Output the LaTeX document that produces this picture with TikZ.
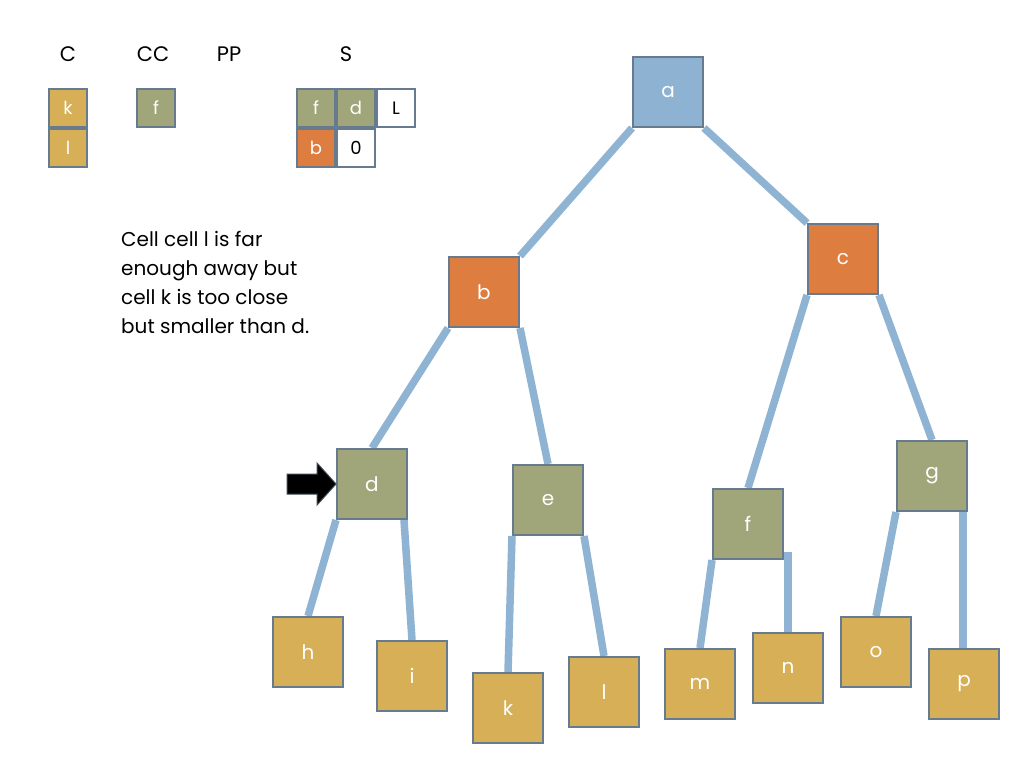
\documentclass[tikz,border=0pt]{standalone}
\usepackage{fontspec}
\setmainfont{Poppins}
\usetikzlibrary{backgrounds,calc}
\definecolor{edgeblue}{RGB}{143,180,211}
\definecolor{nodeblue}{RGB}{142,178,210}
\definecolor{borderc}{RGB}{104,123,142}
\definecolor{orangec}{RGB}{222,125,64}
\definecolor{olivec}{RGB}{160,166,122}
\definecolor{mustard}{RGB}{214,175,86}
\tikzset{
  treenode/.style={draw=borderc, line width=2pt, minimum size=70pt, inner sep=0pt, text=white, font=\fontsize{20}{24}\selectfont},
  cell/.style={draw=borderc, line width=2pt, minimum size=38pt, inner sep=0pt, text=white, font=\fontsize{18}{20}\selectfont},
  blankcell/.style={cell, fill=white, text=black},
  toplabel/.style={inner sep=0pt, font=\fontsize{21}{24}\selectfont},
  link/.style={draw=edgeblue, line width=7.5pt}
}
\begin{document}
\begin{tikzpicture}[x=1pt,y=-1pt]
\useasboundingbox (0,0) rectangle (1024,768);
% top labels
\node[toplabel] (lC) at (68,54) {C};
\node[toplabel] (lCC) at (153,54) {CC};
\node[toplabel] (lPP) at (229,54) {PP};
\node[toplabel] (lS) at (346,54) {S};
% C list
\node[cell, fill=mustard] (ck) at (68,108) {k};
\node[cell, fill=mustard] (cl) at (68,148) {l};
% CC list
\node[cell, fill=olivec] (ccf) at (156,108) {f};
% S stack
\node[cell, fill=olivec] (sf) at (316,108) {f};
\node[cell, fill=olivec] (sd) at (356,108) {d};
\node[blankcell] (sL) at (396,108) {L};
\node[cell, fill=orangec] (sb) at (316,148) {b};
\node[blankcell] (s0) at (356,148) {0};
% text
\node[anchor=north west, inner sep=0pt, align=left, font=\fontsize{20}{29}\selectfont] (txt) at (121,231)
  {Cell cell l is far\\enough away but\\cell k is too close\\but smaller than d.};
% tree
\node[treenode, fill=nodeblue] (a) at (668,92) {a};
\node[treenode, fill=orangec] (b) at (484,292) {b};
\node[treenode, fill=orangec] (c) at (843,259) {c};
\node[treenode, fill=olivec] (d) at (372,484) {d};
\node[treenode, fill=olivec] (e) at (548,500) {e};
\node[treenode, fill=olivec] (f) at (748,524) {f};
\node[treenode, fill=olivec] (g) at (932,476) {g};
\node[treenode, fill=mustard] (h) at (308,652) {h};
\node[treenode, fill=mustard] (i) at (412,676) {i};
\node[treenode, fill=mustard] (k) at (508,708) {k};
\node[treenode, fill=mustard] (l) at (604,692) {l};
\node[treenode, fill=mustard] (m) at (700,684) {m};
\node[treenode, fill=mustard] (n) at (788,668) {n};
\node[treenode, fill=mustard] (o) at (876,652) {o};
\node[treenode, fill=mustard] (p) at (964,684) {p};
\begin{pgfonlayer}{background}
\fill[white] (0,0) rectangle (1024,768);
\draw[link] (a.south west) -- (b.north east);
\draw[link] (a.south east) -- (c.north west);
\draw[link] (b.south west) -- (d.north);
\draw[link] (b.south east) -- (e.north);
\draw[link] (c.south west) -- (f.north);
\draw[link] (c.south east) -- (g.north);
\draw[link] (d.south west) -- (h.north);
\draw[link] ([xshift=-4pt]d.south east) -- (i.north);
\draw[link] (e.south west) -- (k.north);
\draw[link] (e.south east) -- (l.north);
\draw[link] (f.south west) -- (m.north);
\draw[link] ($(n.north |- f.south east)+(0,-8)$) -- (n.north);
\draw[link] (g.south west) -- (o.north);
\draw[link] ([xshift=-1pt]p.north |- g.south) -- ([xshift=-1pt]p.north);
\end{pgfonlayer}
% pointer arrow
\coordinate (tip) at (d.west);
\draw[fill=black, draw=borderc!60!black, line width=1pt, line join=miter]
  ($(tip)+(-49,-10)$) -- ($(tip)+(-19,-10)$) -- ($(tip)+(-19,-21)$) -- (tip)
  -- ($(tip)+(-19,21)$) -- ($(tip)+(-19,10)$) -- ($(tip)+(-49,10)$) -- cycle;
\end{tikzpicture}
\end{document}
